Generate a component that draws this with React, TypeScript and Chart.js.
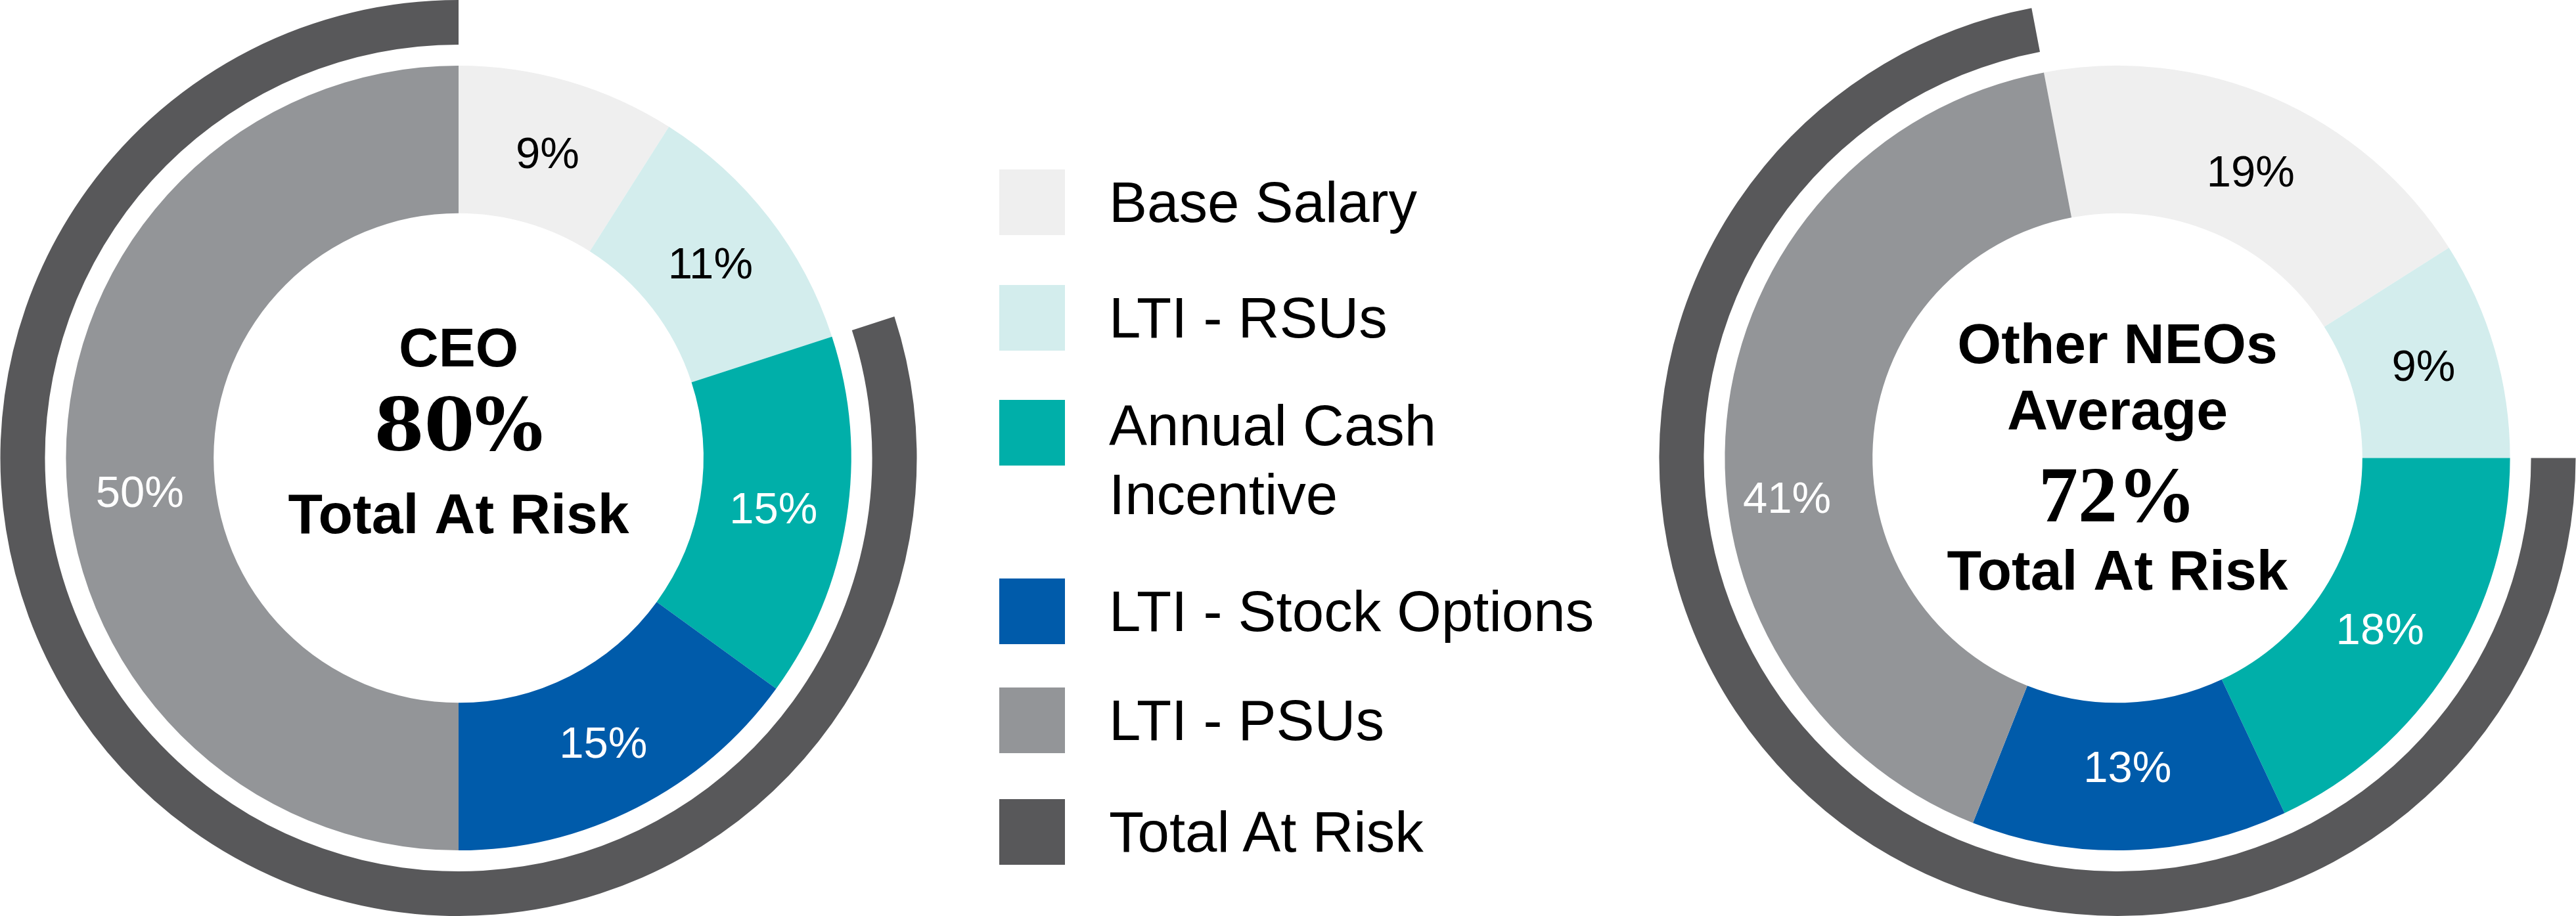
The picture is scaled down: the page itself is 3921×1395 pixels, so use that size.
import React, { useEffect, useRef } from 'react';
import { Chart, registerables } from 'chart.js';

Chart.register(...registerables);

// ---------- data ----------
const categories = ['Base Salary', 'LTI - RSUs', 'Annual Cash Incentive', 'LTI - Stock Options', 'LTI - PSUs'];
const atRiskLabel = 'Total At Risk';
const ceoValues = [9, 11, 15, 15, 50];
const neoValues = [19, 9, 18, 13, 41];
const ceoAtRisk = 80;
const neoAtRisk = 72;
const ceoTitle = ['CEO'];
const neoTitle = ['Other NEOs', 'Average'];

// ---------- style ----------
const segmentColors = ['#efefef', '#d3eded', '#00afa9', '#005baa', '#939598'];
const atRiskColor = '#58585a';
const labelColors = ['#000000', '#000000', '#ffffff', '#ffffff', '#ffffff'];
const SANS = '"Liberation Sans", Arial, Helvetica, sans-serif';
const SERIF = '"Liberation Serif", "Times New Roman", serif';
const SERIF_WIDE = '"DejaVu Serif", "Liberation Serif", serif';

type Line = { text: string; font: string; dy: number };

const sliceLabelPlugin = {
  id: 'sliceLabels',
  afterDatasetsDraw(chart: any, _args: any, opts: any) {
    const meta = chart.getDatasetMeta(2);
    const data = chart.data.datasets[2].data as number[];
    const shifts = (opts && opts.shifts) || [];
    const ctx = chart.ctx as CanvasRenderingContext2D;
    ctx.save();
    ctx.font = `67px ${SANS}`;
    ctx.textAlign = 'center';
    ctx.textBaseline = 'alphabetic';
    meta.data.forEach((arc: any, i: number) => {
      const p = arc.tooltipPosition(false);
      const s = shifts[i] || [0, 0];
      ctx.fillStyle = labelColors[i];
      ctx.fillText(`${data[i]}%`, p.x + s[0], p.y + 24 + s[1]);
    });
    ctx.restore();
  },
};

const centerTextPlugin = {
  id: 'centerText',
  afterDraw(chart: any, _args: any, opts: any) {
    const { left, right, top, bottom } = chart.chartArea;
    const cx = (left + right) / 2;
    const cy = (top + bottom) / 2;
    const ctx = chart.ctx as CanvasRenderingContext2D;
    ctx.save();
    ctx.textAlign = 'center';
    ctx.textBaseline = 'alphabetic';
    ctx.fillStyle = '#000000';
    (opts.lines as Line[]).forEach((l) => {
      ctx.font = l.font;
      ctx.fillText(l.text, cx, cy + l.dy);
    });
    ctx.restore();
  },
};

function Donut(props: {
  values: number[];
  atRisk: number;
  rotation: number;
  lines: Line[];
  shifts: number[][];
}) {
  const ref = useRef<HTMLCanvasElement | null>(null);
  useEffect(() => {
    if (!ref.current) return;
    const chart = new Chart(ref.current, {
      type: 'doughnut',
      data: {
        labels: categories,
        datasets: [
          {
            label: atRiskLabel,
            data: [100 - props.atRisk, props.atRisk],
            backgroundColor: ['rgba(0,0,0,0)', atRiskColor],
            borderWidth: 0,
            weight: 68,
          } as any,
          {
            label: 'gap',
            data: [100],
            backgroundColor: ['rgba(0,0,0,0)'],
            borderWidth: 0,
            weight: 32,
          } as any,
          {
            label: 'Pay mix',
            data: props.values,
            backgroundColor: segmentColors,
            borderWidth: 0,
            weight: 225,
          } as any,
        ],
      },
      options: {
        animation: false,
        responsive: true,
        maintainAspectRatio: false,
        cutout: '53.45%',
        rotation: props.rotation,
        events: [],
        layout: { padding: 0 },
        plugins: {
          legend: { display: false },
          tooltip: { enabled: false },
          centerText: { lines: props.lines },
          sliceLabels: { shifts: props.shifts },
        } as any,
      },
      plugins: [sliceLabelPlugin, centerTextPlugin],
    });
    return () => chart.destroy();
  }, []);
  return <canvas ref={ref} />;
}

const legendTops = [258, 434, 609, 881, 1047, 1217];

export default function App() {
  const legendItems = [
    ...categories.map((c, i) => ({ label: c, color: segmentColors[i] })),
    { label: atRiskLabel, color: atRiskColor },
  ];
  const ceoLines: Line[] = [
    { text: ceoTitle[0], font: `bold 84px ${SANS}`, dy: -140 },
    { text: `${ceoAtRisk}%`, font: `bold 110px ${SERIF_WIDE}`, dy: -13 },
    { text: atRiskLabel, font: `bold 86px ${SANS}`, dy: 114 },
  ];
  const neoLines: Line[] = [
    { text: neoTitle[0], font: `bold 86px ${SANS}`, dy: -145 },
    { text: neoTitle[1], font: `bold 86px ${SANS}`, dy: -44 },
    { text: `${neoAtRisk}%`, font: `bold 120px ${SERIF}`, dy: 96 },
    { text: atRiskLabel, font: `bold 86px ${SANS}`, dy: 200 },
  ];
  const ceoShifts = [[0, 0], [0, 0], [0, 0], [0, 0], [0, 50]];
  const neoShifts = [[10, 8], [0, -6], [-10, 0], [0, -15], [-20, 105]];
  return (
    <div style={{ position: 'absolute', left: 0, top: 0, width: 3921, height: 1395, background: '#ffffff', overflow: 'hidden' }}>
      <div style={{ position: 'absolute', left: 0, top: 0, width: 1396, height: 1395 }}>
        <Donut values={ceoValues} atRisk={ceoAtRisk} rotation={0} lines={ceoLines} shifts={ceoShifts} />
      </div>
      <div style={{ position: 'absolute', left: 2525, top: 0, width: 1396, height: 1395 }}>
        <Donut values={neoValues} atRisk={neoAtRisk} rotation={-10.8} lines={neoLines} shifts={neoShifts} />
      </div>
      {legendItems.map((it, i) => (
        <React.Fragment key={it.label}>
          <div
            style={{
              position: 'absolute',
              left: 1521,
              top: legendTops[i],
              width: 100,
              height: 100,
              background: it.color,
            }}
          />
          <div
            style={{
              position: 'absolute',
              left: 1688,
              top: legendTops[i] + (i === 2 ? -14 : -3),
              width: 780,
              fontFamily: SANS,
              fontSize: 87,
              lineHeight: '105px',
              color: '#000000',
              whiteSpace: 'normal',
            }}
          >
            {it.label}
          </div>
        </React.Fragment>
      ))}
    </div>
  );
}
